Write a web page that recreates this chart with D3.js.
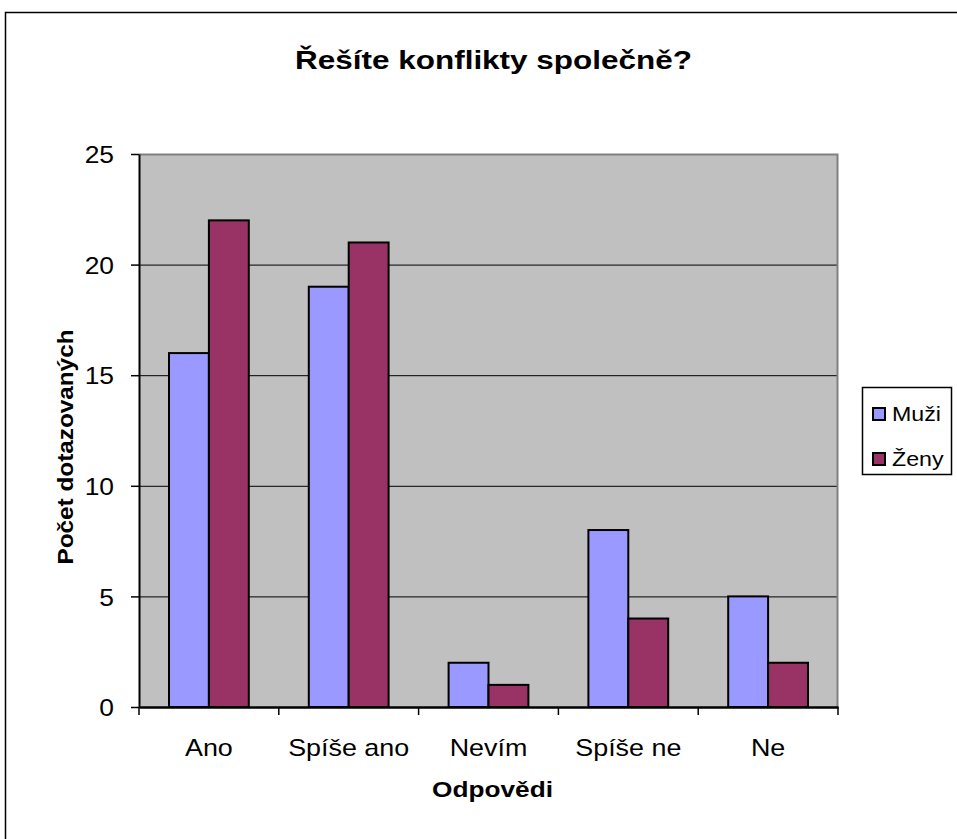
<!DOCTYPE html>
<html>
<head>
<meta charset="utf-8">
<script src="https://cdn.jsdelivr.net/npm/d3@7"></script>
<style>
  body { margin: 0; background: #fff; }
  svg { display: block; font-family: "Liberation Sans", Arial, sans-serif; }
</style>
</head>
<body>
<svg class="chart"></svg>
<script>
// Data
var categories = ["Ano", "Spíše ano", "Nevím", "Spíše ne", "Ne"];
var seriesNames = ["Muži", "Ženy"];
var muzi = [16, 19, 2, 8, 5];
var zeny = [22, 21, 1, 4, 2];
var yTicks = [0, 5, 10, 15, 20, 25];
var colors = ["#9999FF", "#993366"];

var W = 957, H = 839;
var margin = { top: 154, right: 119, bottom: 132, left: 139 },
    width = W - margin.left - margin.right,
    height = H - margin.top - margin.bottom;

// the old renderer draws text a bit wider than Arial metrics
function widen(sel, k) {
  sel.each(function() {
    var w = this.getComputedTextLength();
    d3.select(this).attr("textLength", w * k).attr("lengthAdjust", "spacingAndGlyphs");
  });
}

var root = d3.select(".chart").attr("width", W).attr("height", H);

// chart frame
root.append("rect")
    .attr("x", 5.5).attr("y", 12.5)
    .attr("width", W).attr("height", H)
    .attr("fill", "#fff").attr("stroke", "#000").attr("stroke-width", 1.5);

// title
root.append("text")
    .attr("x", 493.5).attr("y", 69)
    .attr("text-anchor", "middle")
    .attr("font-size", 26).attr("font-weight", "bold")
    .attr("textLength", 397).attr("lengthAdjust", "spacingAndGlyphs")
    .text("Řešíte konflikty společně?");

var svg = root.append("g")
    .attr("transform", "translate(" + margin.left + "," + margin.top + ")");

var x = d3.scaleBand().domain(categories).range([0, width]);
var xs = d3.scaleBand().domain(seriesNames).range([30, x.bandwidth() - 30]);
var y = d3.scaleLinear().domain([0, 25]).range([height, 0]);

// plot background
svg.append("rect")
    .attr("width", width).attr("height", height)
    .attr("fill", "#C0C0C0");

// gridlines
svg.selectAll(".grid")
    .data(yTicks.slice(1, -1))
  .enter().append("line")
    .attr("x1", 0).attr("x2", width)
    .attr("y1", function(d) { return y(d) + 0.5; })
    .attr("y2", function(d) { return y(d) + 0.5; })
    .attr("stroke", "#000").attr("stroke-width", 1);

// plot border top/right (gray)
svg.append("path")
    .attr("d", "M0,0.5H" + (width - 0.5) + "V" + height)
    .attr("fill", "none").attr("stroke", "#808080").attr("stroke-width", 2);

// bars
var table = categories.map(function(c, i) { return { cat: c, vals: [muzi[i], zeny[i]] }; });
var groups = svg.selectAll(".grp")
    .data(table)
  .enter().append("g")
    .attr("transform", function(d) { return "translate(" + x(d.cat) + ",0)"; });

groups.selectAll("rect")
    .data(function(d) { return d.vals.map(function(v, j) { return { s: seriesNames[j], v: v, j: j }; }); })
  .enter().append("rect")
    .attr("x", function(d) { return xs(d.s); })
    .attr("width", xs.bandwidth())
    .attr("y", function(d) { return y(d.v); })
    .attr("height", function(d) { return height - y(d.v); })
    .attr("fill", function(d) { return colors[d.j]; })
    .attr("stroke", "#000").attr("stroke-width", 2);

// y axis
var yAxis = svg.append("g")
    .call(d3.axisLeft(y).tickValues(yTicks).tickSize(8).tickSizeOuter(0));
yAxis.select(".domain").attr("stroke-width", 2);
yAxis.selectAll(".tick line").attr("stroke-width", 1.5);
yAxis.selectAll("text")
    .attr("font-size", 24).attr("font-family", "Liberation Sans, Arial, sans-serif")
    .attr("fill", "#000").attr("x", -25).attr("dy", "0.36em")
    .call(widen, 1.1);

// x axis
var xAxis = svg.append("g")
    .attr("transform", "translate(0," + height + ")")
    .call(d3.axisBottom(x).tickSize(0).tickSizeOuter(0));
xAxis.select(".domain").attr("stroke-width", 2.5);
xAxis.selectAll("text")
    .attr("font-size", 24).attr("font-family", "Liberation Sans, Arial, sans-serif")
    .attr("fill", "#000").attr("y", 49).attr("dy", 0)
    .call(widen, 1.12);
xAxis.selectAll(".sep")
    .data(d3.range(categories.length + 1))
  .enter().append("line")
    .attr("x1", function(i) { return i * x.bandwidth(); })
    .attr("x2", function(i) { return i * x.bandwidth(); })
    .attr("y1", 0).attr("y2", 8)
    .attr("stroke", "#000").attr("stroke-width", 1.5);

// axis titles
root.append("text")
    .attr("x", 492.5).attr("y", 797)
    .attr("text-anchor", "middle")
    .attr("font-size", 22).attr("font-weight", "bold")
    .attr("textLength", 121).attr("lengthAdjust", "spacingAndGlyphs")
    .text("Odpovědi");

root.append("text")
    .attr("transform", "translate(73,447) rotate(-90)")
    .attr("text-anchor", "middle")
    .attr("font-size", 22).attr("font-weight", "bold")
    .attr("textLength", 235).attr("lengthAdjust", "spacingAndGlyphs")
    .text("Počet dotazovaných");

// legend
var legend = root.append("g").attr("transform", "translate(862,387)");
legend.append("rect")
    .attr("x", 0.5).attr("y", 0.5).attr("width", 89).attr("height", 87)
    .attr("fill", "#fff").attr("stroke", "#000").attr("stroke-width", 1.5);
seriesNames.forEach(function(s, i) {
    var g = legend.append("g").attr("transform", "translate(11," + (21 + i * 45) + ")");
    g.append("rect")
        .attr("width", 12).attr("height", 12)
        .attr("fill", colors[i]).attr("stroke", "#000").attr("stroke-width", 2);
    g.append("text")
        .attr("x", 19).attr("y", 13)
        .attr("font-size", 20)
        .text(s)
        .call(widen, 1.16);
});
</script>
</body>
</html>
